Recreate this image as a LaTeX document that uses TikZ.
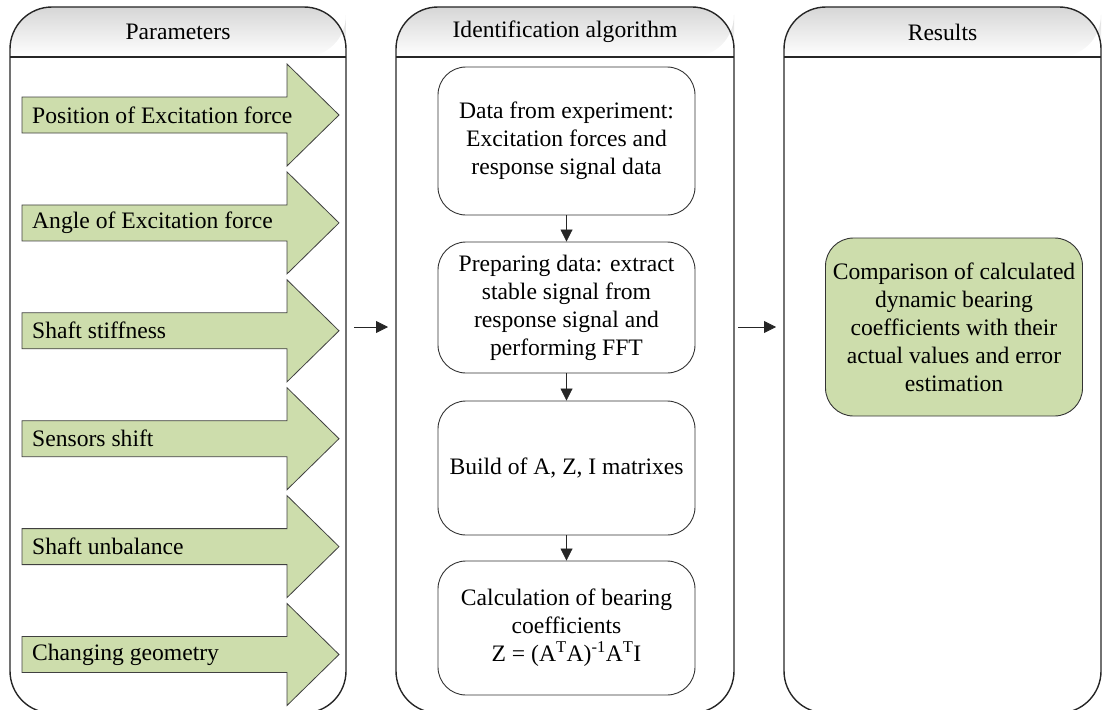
\documentclass[tikz,border=0pt]{standalone}
\usepackage{fontspec}
\setmainfont{Liberation Serif}
\usetikzlibrary{arrows.meta,positioning,calc}
\definecolor{paramgreen}{RGB}{205,221,172}
\newcommand\diagfont{\fontsize{23.6}{28}\selectfont}
\tikzset{
  panel/.style = {draw = black!85, line width = 1.4pt, rounded corners = 42pt},
  algobox/.style = {draw = black!80, line width = .9pt, rounded corners = 28pt,
    minimum width = 257pt, align = center, font = \diagfont, inner sep = 0pt},
  parrow/.style = {fill = paramgreen, draw = black!75, line width = .8pt},
  conn/.style = {draw = black!85, line width = .8pt, -{Triangle[length = 12pt, width = 12pt]}}
}
\begin{document}
\begin{tikzpicture}[x = 1pt, y = -1pt]
\useasboundingbox (0,0) rectangle (1102,709);
% Panels with shaded headers
\foreach \xl/\xr/\hd/\nm in {10/346/Parameters/param, 396/734/Identification algorithm/ident, 784/1101/Results/res}{
  \shade[top color = black!16, bottom color = white, rounded corners = 42pt]
    (\xl,57) -- (\xl,7) -- (\xr,7) -- (\xr,57) [sharp corners] -- cycle;
  \draw[panel] (\xl,713) -- (\xl,7) -- (\xr,7) -- (\xr,713) -- cycle;
  \draw[line width = 1.4pt, black!85] (\xl,57) -- (\xr,57);
  \node[font = \diagfont] (hdr-\nm) at ({(\xl+\xr)/2},32) {\hd};
}
% Parameter arrows
\foreach \i/\txt in {0/Position of Excitation force, 1/Angle of Excitation force, 2/Shaft stiffness,
    3/Sensors shift, 4/Shaft unbalance, 5/Changing geometry}{
  \pgfmathsetmacro\yc{115+107.9*\i}
  \draw[parrow] (22,\yc-18) -- (287,\yc-18) -- (287,\yc-51) -- (339,\yc)
    -- (287,\yc+51) -- (287,\yc+18) -- (22,\yc+18) -- cycle;
  \node[anchor = west, font = \diagfont, inner sep = 0pt] (par-\i) at (32,\yc) {\txt};
}
% Identification algorithm
\node[algobox, minimum height = 148pt] (expdata) at (566.5,141)
  {Data from experiment:\\Excitation forces and\\response signal data};
\node[algobox, minimum height = 131pt] (prepdata) at (566.5,307.5)
  {Preparing data: extract\\stable signal from\\response signal and\\performing FFT};
\node[algobox, minimum height = 134pt] (matrices) at (566.5,468)
  {Build of A, Z, I matrixes};
\node[algobox, minimum height = 134pt] (calcz) at (566.5,628)
  {Calculation of bearing\\coefficients\\Z = (A\textsuperscript{T}A)\textsuperscript{-1}A\textsuperscript{T}I};
\draw[conn] (expdata) -- (prepdata);
\draw[conn] (prepdata) -- (matrices);
\draw[conn] (matrices) -- (calcz);
% Results
\node[algobox, fill = paramgreen, minimum height = 178pt] (compare) at (954,327)
  {Comparison of calculated\\dynamic bearing\\coefficients with their\\actual values and error\\estimation};
% Links between panels
\coordinate (toident-s) at (354,327);
\coordinate (toident-e) at (388,327);
\coordinate (tores-s) at (738,327);
\coordinate (tores-e) at (776,327);
\draw[conn] (toident-s) -- (toident-e);
\draw[conn] (tores-s) -- (tores-e);
\end{tikzpicture}
\end{document}
